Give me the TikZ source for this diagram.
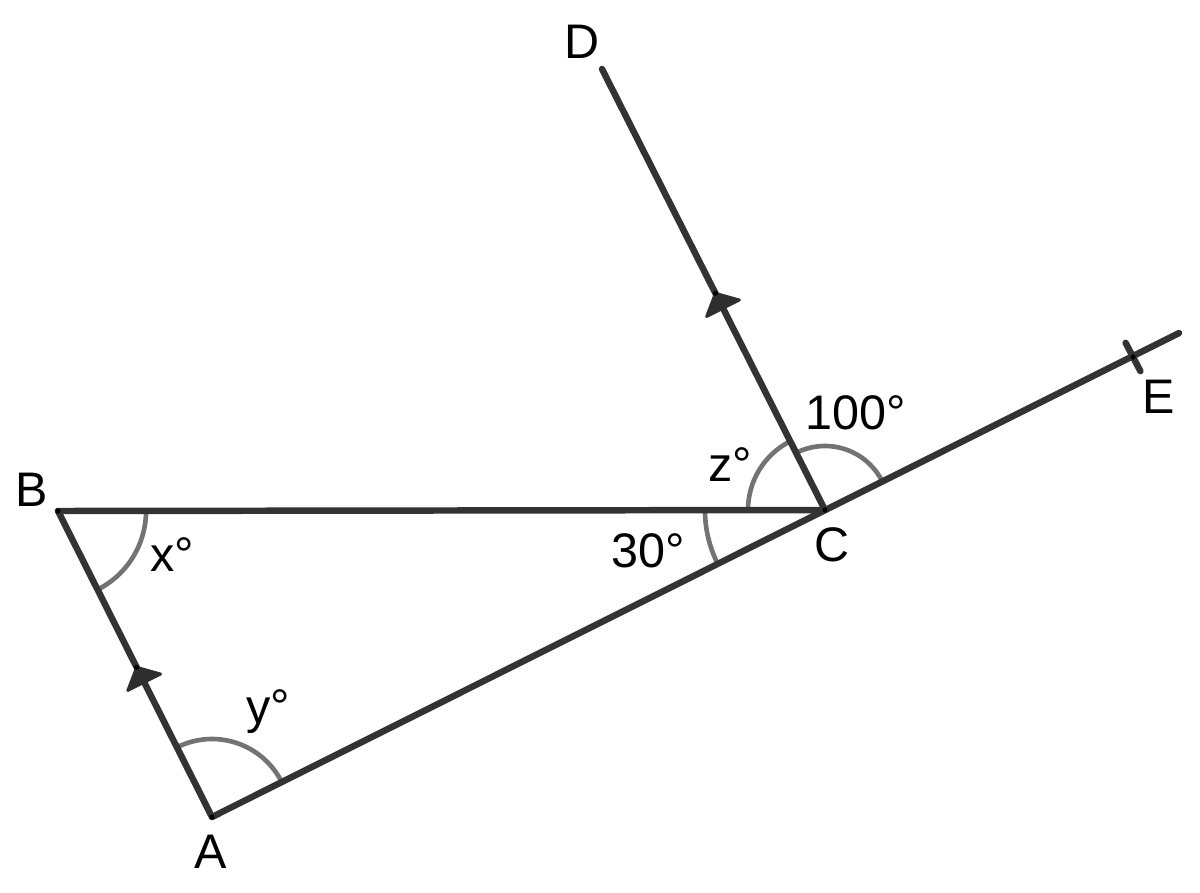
\documentclass[tikz,border=0pt]{standalone}
\usepackage{fontspec}
\setmainfont{Liberation Sans}
\usetikzlibrary{calc,angles}
\begin{document}
\begin{tikzpicture}[x=0.025cm,y=-0.025cm,
  seg/.style={draw=black!80, line width=4.6pt, line cap=round},
  anglearc/.style={draw=black!55, line width=3.3pt},
  lbl/.style={font=\fontsize{34.5}{40}\selectfont, text=black, inner sep=0pt},
  arrowtri/.style={fill=black!82, draw=black!82, line width=2pt, line join=round},
  vdot/.style={fill=black, draw=none}]
\useasboundingbox (0,0) rectangle (1200,892);
% points
\coordinate (A) at (212,817);
\coordinate (B) at (58,511);
\coordinate (C) at (825,510);
\coordinate (D) at (602,69);
\coordinate (Eend) at (1179,333);
\coordinate (E) at (1133,357);
% angle arcs
\pic[anglearc, angle radius=2.2cm] {angle=A--B--C};
\pic[anglearc, angle radius=1.95cm] {angle=C--A--B};
\pic[anglearc, angle radius=3.0cm] {angle=B--C--A};
\pic[anglearc, angle radius=1.925cm] {angle=D--C--B};
\pic[anglearc, angle radius=1.6cm] {angle=Eend--C--D};
% segments
\draw[seg] (B) -- (C);
\draw[seg] (A) -- (B);
\draw[seg] (A) -- (Eend);
\draw[seg] (C) -- (D);
% tick at E
\draw[seg] ($(E)!0.4cm!90:(Eend)$) -- ($(E)!0.4cm!-90:(Eend)$);
% arrowheads (parallel marks)
\coordinate (P1) at ($(C)!6.07cm!(D)$);
\coordinate (M1) at ($(C)!5.65cm!(D)$);
\filldraw[arrowtri] (P1) -- ($(M1)!0.46cm!90:(D)$) -- ($(M1)!0.46cm!-90:(D)$) -- cycle;
\coordinate (P2) at ($(A)!4.19cm!(B)$);
\coordinate (M2) at ($(A)!3.77cm!(B)$);
\filldraw[arrowtri] (P2) -- ($(M2)!0.46cm!90:(B)$) -- ($(M2)!0.46cm!-90:(B)$) -- cycle;
% small dots
\foreach \p in {A,B,C,E,P1,P2} \fill[vdot] (\p) circle (2.6);
% labels
\node[lbl] (lD) at (582,42) {D};
\node[lbl] (lB) at (32,490) {B};
\node[lbl] (lC) at (832,545) {C};
\node[lbl] (lA) at (211,852) {A};
\node[lbl] (lE) at (1159,397) {E};
\node[lbl] (lx) at (172,555) {x°};
\node[lbl] (ly) at (268,712) {y°};
\node[lbl] (lz) at (730,465) {z°};
\node[lbl] (l100) at (856,413) {100°};
\node[lbl] (l30) at (648,551) {30°};
\end{tikzpicture}
\end{document}
